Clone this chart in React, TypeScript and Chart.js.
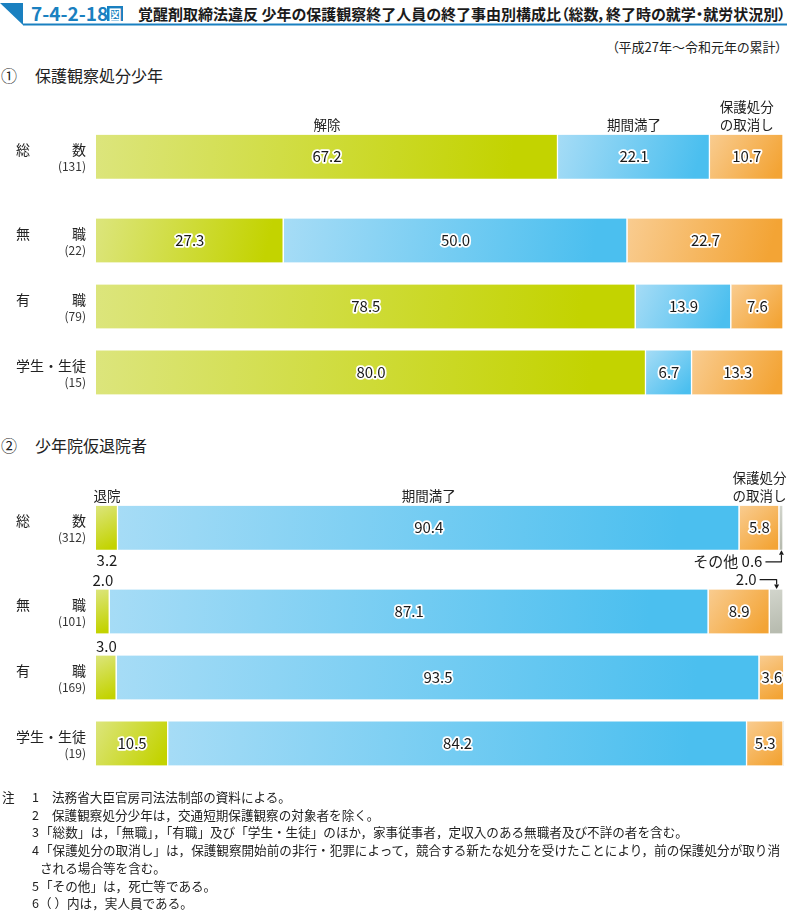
import React, { useEffect, useRef } from 'react';
import { Chart, registerables } from 'chart.js';

Chart.register(...registerables);

const FONT = '"Noto Sans CJK JP", "Noto Sans", sans-serif';

// ---------------- data ----------------
const ROW_LABELS = ['総　　　数', '無　　　職', '有　　　職', '学生・生徒'];

const P1_COUNTS = ['(131)', '(22)', '(79)', '(15)'];
const P1_SERIES = ['解除', '期間満了', '保護処分の取消し'];
const P1_KAIJO = [67.2, 27.3, 78.5, 80.0];
const P1_MANRYO = [22.1, 50.0, 13.9, 6.7];
const P1_TORIKESHI = [10.7, 22.7, 7.6, 13.3];

const P2_COUNTS = ['(312)', '(101)', '(169)', '(19)'];
const P2_SERIES = ['退院', '期間満了', '保護処分の取消し', 'その他'];
const P2_TAIIN = [3.2, 2.0, 3.0, 10.5];
const P2_MANRYO = [90.4, 87.1, 93.5, 84.2];
const P2_TORIKESHI = [5.8, 8.9, 3.6, 5.3];
const P2_SONOTA = [0.6, 2.0, 0, 0];

const HEADER_LINES: Record<string, string[]> = {
  '保護処分の取消し': ['保護処分', 'の取消し'],
};

const NOTES: { num: string; text: string; indent: number }[] = [
  { num: '1', text: '法務省大臣官房司法法制部の資料による。', indent: 52 },
  { num: '2', text: '保護観察処分少年は，交通短期保護観察の対象者を除く。', indent: 52 },
  { num: '3', text: '「総数」は，「無職」，「有職」及び「学生・生徒」のほか，家事従事者，定収入のある無職者及び不詳の者を含む。', indent: 40 },
  { num: '4', text: '「保護処分の取消し」は，保護観察開始前の非行・犯罪によって，競合する新たな処分を受けたことにより，前の保護処分が取り消', indent: 40 },
  { num: '', text: 'される場合等を含む。', indent: 40 },
  { num: '5', text: '「その他」は，死亡等である。', indent: 40 },
  { num: '6', text: '（ ）内は，実人員である。', indent: 39 },
];

// ---------------- layout / style ----------------
const W = 787;
const PLOT_LEFT = 96;
const PLOT_RIGHT = 783.5;
const ROW_POS = [0, 1.27, 2.27, 3.27];
const ROW_UNIT = 74.2;
const Y_MIN = -0.5;
const Y_MAX = 3.6;
const BAR_H = 44;
const LABEL_RIGHT = 86;

const SERIES_COLORS: [string, string][] = [
  ['#dce57c', '#c3d300'],
  ['#a6dcf6', '#4bbfef'],
  ['#f9cc90', '#f3a435'],
  ['#d2d5cc', '#b8bcb0'],
];

type PanelCfg = {
  series: string[];
  values: number[][];
  counts: string[];
  showHeader: boolean[];
  place: Record<string, string>;
};

function segmentBounds(chart: any, values: number[][], si: number, row: number) {
  let start = 0;
  for (let k = 0; k < si; k++) start += values[k][row];
  const end = start + values[si][row];
  const xs = chart.scales.x;
  const ys = chart.scales.y;
  const x0 = xs.getPixelForValue(start);
  const x1 = xs.getPixelForValue(end);
  const yc = ys.getPixelForValue(ROW_POS[row]);
  return { x0, x1, yc, top: yc - BAR_H / 2, bottom: yc + BAR_H / 2 };
}

function outlined(ctx: CanvasRenderingContext2D, text: string, x: number, y: number) {
  ctx.lineJoin = 'round';
  ctx.lineWidth = 3.5;
  ctx.strokeStyle = '#ffffff';
  ctx.strokeText(text, x, y);
  ctx.fillStyle = '#1a1a1a';
  ctx.fillText(text, x, y);
}

function makePlugin(cfg: PanelCfg) {
  return {
    id: 'panelText',
    afterDatasetsDraw(chart: any) {
      const ctx: CanvasRenderingContext2D = chart.ctx;
      const ys = chart.scales.y;
      ctx.save();
      ctx.textBaseline = 'middle';

      // row labels
      ROW_LABELS.forEach((lab, i) => {
        const yc = ys.getPixelForValue(ROW_POS[i]);
        ctx.textAlign = 'right';
        ctx.fillStyle = '#222';
        ctx.font = `14px ${FONT}`;
        ctx.fillText(lab, LABEL_RIGHT, yc - 7);
        ctx.fillStyle = '#333';
        ctx.font = `12px ${FONT}`;
        ctx.fillText(cfg.counts[i], LABEL_RIGHT, yc + 10);
      });

      // series headers above the first row
      cfg.series.forEach((name, si) => {
        if (!cfg.showHeader[si]) return;
        const b = segmentBounds(chart, cfg.values, si, 0);
        const lines = HEADER_LINES[name] || [name];
        const cx = (b.x0 + b.x1) / 2;
        ctx.textAlign = 'center';
        ctx.fillStyle = '#222';
        ctx.font = `13.5px ${FONT}`;
        lines.forEach((ln, li) => {
          const y = b.top - 10 - (lines.length - 1 - li) * 17.5;
          ctx.fillText(ln, cx, y);
        });
      });

      // value labels
      cfg.values.forEach((arr, si) => {
        arr.forEach((v, row) => {
          if (!v) return;
          const b = segmentBounds(chart, cfg.values, si, row);
          const cx = (b.x0 + b.x1) / 2;
          const text = v.toFixed(1);
          const place = cfg.place[`${si}-${row}`] || 'inside';
          ctx.font = `15px ${FONT}`;
          ctx.textAlign = 'center';
          if (place === 'inside') {
            outlined(ctx, text, cx, b.yc);
          } else if (place === 'below') {
            ctx.fillStyle = '#1a1a1a';
            ctx.fillText(text, cx, b.bottom + 11);
          } else if (place === 'above') {
            ctx.fillStyle = '#1a1a1a';
            ctx.fillText(text, cx, b.top - 9);
          } else if (place === 'otherBelow' || place === 'otherAbove') {
            const below = place === 'otherBelow';
            const label = below ? `${cfg.series[si]} ${text}` : text;
            const y = below ? b.bottom + 12 : b.top - 10;
            const tr = cx - (below ? 19 : 20);
            ctx.textAlign = 'right';
            ctx.fillStyle = '#1a1a1a';
            ctx.fillText(label, tr, y);
            ctx.strokeStyle = '#1a1a1a';
            ctx.lineWidth = 1.2;
            const tipY = below ? b.bottom + 0.5 : b.top - 0.5;
            const baseY = below ? b.bottom + 5 : b.top - 5;
            ctx.beginPath();
            ctx.moveTo(tr + 3, y);
            ctx.lineTo(cx, y);
            ctx.lineTo(cx, baseY);
            ctx.stroke();
            ctx.fillStyle = '#1a1a1a';
            ctx.beginPath();
            ctx.moveTo(cx, tipY);
            ctx.lineTo(cx - 2.5, baseY);
            ctx.lineTo(cx + 2.5, baseY);
            ctx.closePath();
            ctx.fill();
          }
        });
      });
      ctx.restore();
    },
  };
}

function BarPanel({ top, height, firstCenter, cfg }: { top: number; height: number; firstCenter: number; cfg: PanelCfg }) {
  const ref = useRef<HTMLCanvasElement>(null);
  useEffect(() => {
    const canvas = ref.current;
    if (!canvas) return;
    const rel = firstCenter - top;
    const padTop = rel + Y_MIN * ROW_UNIT;
    const padBottom = height - padTop - (Y_MAX - Y_MIN) * ROW_UNIT;
    const datasets = cfg.series.map((name, si) => ({
      label: name,
      data: cfg.values[si].map((v, i) => ({ x: v, y: ROW_POS[i] })),
      backgroundColor: (c: any) => {
        const chart = c.chart;
        const [light, dark] = SERIES_COLORS[si];
        if (c.type !== 'data' || !chart.chartArea || !chart.scales || !chart.scales.x) return dark;
        const b = segmentBounds(chart, cfg.values, si, c.dataIndex);
        if (!(b.x1 > b.x0)) return dark;
        const g = chart.ctx.createLinearGradient(b.x0, b.top, b.x1, b.bottom);
        g.addColorStop(0, light);
        g.addColorStop(0.9, dark);
        g.addColorStop(1, dark);
        return g;
      },
      borderColor: '#ffffff',
      borderWidth: { left: 0, top: 0, bottom: 0, right: 1.5 },
      borderSkipped: false,
      barThickness: BAR_H,
    }));
    const chart = new Chart(canvas, {
      type: 'bar',
      data: { datasets } as any,
      options: {
        indexAxis: 'y',
        animation: false,
        responsive: false,
        maintainAspectRatio: false,
        devicePixelRatio: 1,
        layout: { padding: { left: PLOT_LEFT, right: W - PLOT_RIGHT, top: padTop, bottom: padBottom } },
        plugins: { legend: { display: false }, tooltip: { enabled: false }, title: { display: false } },
        scales: {
          x: { type: 'linear', min: 0, max: 100, stacked: true, display: false },
          y: { type: 'linear', min: Y_MIN, max: Y_MAX, reverse: true, stacked: true, display: false },
        },
      } as any,
      plugins: [makePlugin(cfg)],
    });
    return () => chart.destroy();
  }, []);
  return (
    <canvas
      ref={ref}
      width={W}
      height={height}
      style={{ position: 'absolute', left: 0, top, width: W, height }}
    />
  );
}

const PANEL1: PanelCfg = {
  series: P1_SERIES,
  values: [P1_KAIJO, P1_MANRYO, P1_TORIKESHI],
  counts: P1_COUNTS,
  showHeader: [true, true, true],
  place: {},
};

const PANEL2: PanelCfg = {
  series: P2_SERIES,
  values: [P2_TAIIN, P2_MANRYO, P2_TORIKESHI, P2_SONOTA],
  counts: P2_COUNTS,
  showHeader: [true, true, true, false],
  place: { '0-0': 'below', '0-1': 'above', '0-2': 'above', '3-0': 'otherBelow', '3-1': 'otherAbove' },
};

const abs = (left: number, top: number, extra: React.CSSProperties = {}): React.CSSProperties => ({
  position: 'absolute',
  left,
  top,
  whiteSpace: 'nowrap',
  ...extra,
});

export default function App() {
  const BLUE = '#1a80c0';
  return (
    <div
      style={{
        position: 'absolute',
        left: 0,
        top: 0,
        width: W,
        height: 912,
        background: '#ffffff',
        fontFamily: FONT,
        color: '#222',
        overflow: 'hidden',
      }}
    >
      <svg style={{ position: 'absolute', left: 0, top: 0 }} width={W} height={30}>
        <polygon points="0,3 23,3 23,25" fill={BLUE} />
        <rect x={23} y={23.5} width={W - 23} height={2} fill={BLUE} />
      </svg>
      <div style={abs(31, 2, { fontSize: 19, fontWeight: 700, color: BLUE, lineHeight: '22px' })}>7-4-2-18</div>
      <div
        style={abs(107, 6, {
          width: 16,
          height: 15,
          background: BLUE,
          color: '#fff',
          fontSize: 13,
          fontWeight: 700,
          lineHeight: '15px',
          textAlign: 'center',
        })}
      >
        図
      </div>
      <div style={abs(138, 4, { fontSize: 15, fontWeight: 700, lineHeight: '20px', color: '#1a1a1a', fontFeatureSettings: '"palt"' })}>
        覚醒剤取締法違反 少年の保護観察終了人員の終了事由別構成比（総数，終了時の就学・就労状況別）
      </div>
      <div style={{ position: 'absolute', right: 5, top: 38, fontSize: 13, lineHeight: '18px', whiteSpace: 'nowrap', fontFeatureSettings: '"palt"' }}>
        （平成27年～令和元年の累計）
      </div>

      <div style={abs(1, 64, { fontSize: 16, lineHeight: '22px' })}>①</div>
      <div style={abs(35, 64, { fontSize: 16, lineHeight: '22px' })}>保護観察処分少年</div>

      <div style={abs(1, 434, { fontSize: 16, lineHeight: '22px' })}>②</div>
      <div style={abs(35, 434, { fontSize: 16, lineHeight: '22px' })}>少年院仮退院者</div>

      <BarPanel top={84} height={336} firstCenter={144} cfg={PANEL1} />
      <BarPanel top={452} height={336} firstCenter={515} cfg={PANEL2} />

      <div style={abs(2, 788, { fontSize: 12.6, lineHeight: '18px' })}>注</div>
      {NOTES.map((n, i) => (
        <React.Fragment key={i}>
          {n.num && <div style={abs(32, 788 + i * 17.7, { fontSize: 12.6, lineHeight: '18px' })}>{n.num}</div>}
          <div style={abs(n.indent, 788 + i * 17.7, { fontSize: 12.6, lineHeight: '18px' })}>{n.text}</div>
        </React.Fragment>
      ))}
    </div>
  );
}
